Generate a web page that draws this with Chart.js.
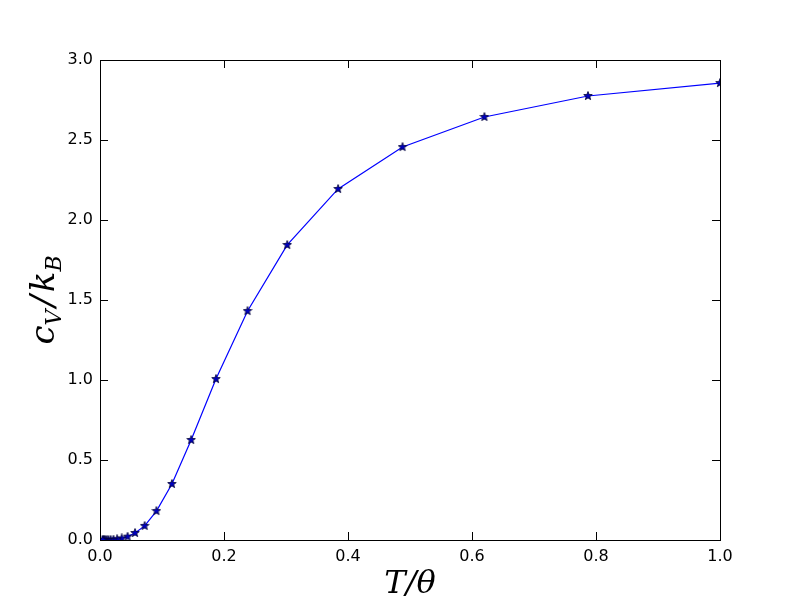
<!DOCTYPE html>
<html>
<head>
<meta charset="utf-8">
<script src="https://cdn.jsdelivr.net/npm/chart.js@4.4.0/dist/chart.umd.min.js"></script>
<style>
  html, body { margin: 0; padding: 0; background: #fff; }
  #wrap { width: 800px; height: 600px; }
</style>
</head>
<body>
<div id="wrap"><canvas id="heatChart" width="800" height="600"></canvas></div>
<script>
// Reduced temperature T/theta
const temps = [1.0, 0.787, 0.62, 0.488, 0.384, 0.302, 0.238, 0.187, 0.147, 0.116,
    0.091, 0.072, 0.0565, 0.0445, 0.035, 0.0276, 0.0217, 0.0171, 0.0134, 0.0106,
    0.0083, 0.0065, 0.0051, 0.004];
// Heat capacity c_V / k_B
const heatCap = [2.856, 2.775, 2.644, 2.456, 2.194, 1.844, 1.431, 1.006, 0.625, 0.35,
    0.181, 0.088, 0.044, 0.021, 0.010, 0.005, 0.0024, 0.0012, 0.0006, 0.0003,
    0.00013, 0.00006, 0.00003, 0.00001];
const xTicks = [0.0, 0.2, 0.4, 0.6, 0.8, 1.0];
const yTicks = [0.0, 0.5, 1.0, 1.5, 2.0, 2.5, 3.0];

// Filled star marker like matplotlib's '*'
function makeStar(size) {
    const c = document.createElement('canvas');
    c.width = size; c.height = size;
    const g = c.getContext('2d');
    const cx = size / 2, cy = size / 2;
    const outer = size / 2 - 0.5, inner = outer * 0.42;
    g.beginPath();
    for (let i = 0; i < 10; i++) {
        const r = i % 2 === 0 ? outer : inner;
        const a = -Math.PI / 2 + i * Math.PI / 5;
        const px = cx + r * Math.cos(a), py = cy + r * Math.sin(a);
        if (i === 0) g.moveTo(px, py); else g.lineTo(px, py);
    }
    g.closePath();
    g.fillStyle = '#0000bf';
    g.fill();
    g.lineWidth = 0.8;
    g.strokeStyle = '#000033';
    g.stroke();
    return c;
}

// Inward ticks on all sides, frame and math-style axis labels
const framePlugin = {
    id: 'frame',
    afterDraw(chart) {
        const { ctx, chartArea: a, scales } = chart;
        ctx.save();
        ctx.strokeStyle = '#000';
        ctx.lineWidth = 1;
        const tl = 8;
        ctx.beginPath();
        xTicks.forEach(v => {
            const x = Math.round(scales.x.getPixelForValue(v)) + 0.5;
            ctx.moveTo(x, a.bottom); ctx.lineTo(x, a.bottom - tl);
            ctx.moveTo(x, a.top); ctx.lineTo(x, a.top + tl);
        });
        yTicks.forEach(v => {
            const y = Math.round(scales.y.getPixelForValue(v)) + 0.5;
            ctx.moveTo(a.left, y); ctx.lineTo(a.left + tl, y);
            ctx.moveTo(a.right, y); ctx.lineTo(a.right - tl, y);
        });
        ctx.stroke();
        ctx.strokeRect(Math.round(a.left) + 0.5, Math.round(a.top) + 0.5,
            Math.round(a.right - a.left), Math.round(a.bottom - a.top));

        // x label: T/θ
        ctx.fillStyle = '#000';
        ctx.textBaseline = 'alphabetic';
        ctx.textAlign = 'center';
        ctx.font = 'italic 32px "DejaVu Serif", serif';
        ctx.fillText('T/θ', (a.left + a.right) / 2, 593);

        // y label: c_V / k_B (rotated)
        ctx.translate(54, (a.top + a.bottom) / 2);
        ctx.rotate(-Math.PI / 2);
        const big = 'italic 34px "DejaVu Serif", serif';
        const small = 'italic 22px "DejaVu Serif", serif';
        const parts = [
            { t: 'c', f: big, dy: 0, gap: 0 },
            { t: 'V', f: small, dy: 7, gap: 3 },
            { t: '/', f: big, dy: 0, gap: 3 },
            { t: 'k', f: big, dy: 0, gap: 0 },
            { t: 'B', f: small, dy: 7, gap: 0 }
        ];
        let total = 0;
        parts.forEach(p => { ctx.font = p.f; p.w = ctx.measureText(p.t).width; total += p.w + p.gap; });
        let x = -total / 2;
        ctx.textAlign = 'left';
        parts.forEach(p => {
            ctx.font = p.f;
            ctx.fillText(p.t, x, p.dy);
            x += p.w + p.gap;
        });
        ctx.restore();
    }
};

const ctx = document.getElementById('heatChart');
new Chart(ctx, {
    type: 'line',
    data: {
        datasets: [{
            data: temps.map((t, i) => ({ x: t, y: heatCap[i] })),
            borderColor: '#0000ff',
            borderWidth: 1.2,
            pointStyle: makeStar(10),
            pointRadius: 5,
            tension: 0,
            fill: false
        }]
    },
    options: {
        responsive: false,
        animation: false,
        layout: { padding: { top: 60, right: 80, left: 0, bottom: 0 } },
        plugins: { legend: { display: false }, tooltip: { enabled: false } },
        scales: {
            x: {
                type: 'linear',
                min: 0, max: 1,
                afterFit(scale) { scale.height = 60; },
                afterBuildTicks(scale) { scale.ticks = xTicks.map(v => ({ value: v })); },
                grid: { display: false, drawTicks: false },
                border: { display: false },
                ticks: {
                    padding: 7,
                    color: '#000',
                    font: { family: '"DejaVu Sans"', size: 16 },
                    callback: v => v.toFixed(1)
                }
            },
            y: {
                type: 'linear',
                min: 0, max: 3,
                afterFit(scale) { scale.width = 100; },
                afterBuildTicks(scale) { scale.ticks = yTicks.map(v => ({ value: v })); },
                grid: { display: false, drawTicks: false },
                border: { display: false },
                ticks: {
                    padding: 7,
                    color: '#000',
                    font: { family: '"DejaVu Sans"', size: 16 },
                    callback: v => v.toFixed(1)
                }
            }
        }
    },
    plugins: [framePlugin]
});
</script>
</body>
</html>
